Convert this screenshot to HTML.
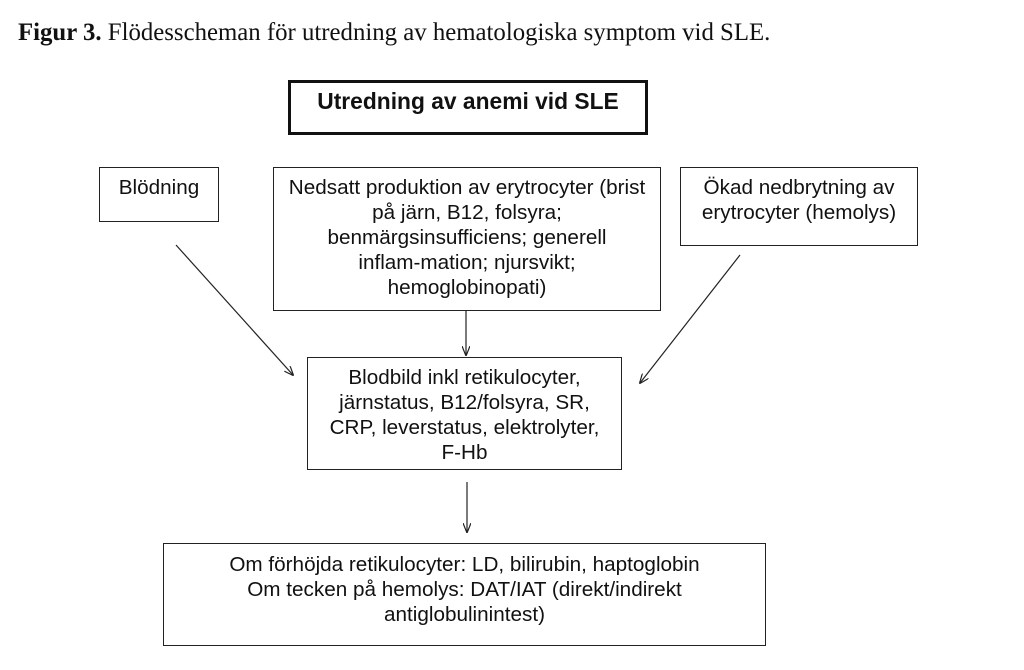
<!DOCTYPE html>
<html><head><meta charset="utf-8"><style>
body{margin:0;width:1024px;height:670px;background:#fff;position:relative;overflow:hidden;font-family:"Liberation Sans",Arial,sans-serif;color:#111}
.t{position:absolute;left:18px;top:19px;font-family:"Liberation Serif",serif;font-size:24.8px;white-space:nowrap}
.b{position:absolute;border:1.5px solid #222;box-sizing:border-box;text-align:center;font-size:20.7px;line-height:25px;padding-top:7px;white-space:nowrap}
</style></head><body>
<div class="t"><b>Figur 3.</b> Flödesscheman för utredning av hematologiska symptom vid SLE.</div>
<div class="b" style="left:288px;top:80px;width:360px;height:55px;border:3px solid #111;font-weight:bold;font-size:22.8px;padding-top:6px">Utredning av anemi vid SLE</div>
<div class="b" style="left:99px;top:167px;width:120px;height:55px">Blödning</div>
<div class="b" style="left:273px;top:167px;width:388px;height:144px">Nedsatt produktion av erytrocyter (brist<br>på järn, B12, folsyra;<br>benmärgsinsufficiens; generell<br>inflam-mation; njursvikt;<br>hemoglobinopati)</div>
<div class="b" style="left:680px;top:167px;width:238px;height:79px">Ökad nedbrytning av<br>erytrocyter (hemolys)</div>
<div class="b" style="left:307px;top:357px;width:315px;height:113px">Blodbild inkl retikulocyter,<br>järnstatus, B12/folsyra, SR,<br>CRP, leverstatus, elektrolyter,<br>F-Hb</div>
<div class="b" style="left:163px;top:543px;width:603px;height:103px;padding-top:8px">Om förhöjda retikulocyter: LD, bilirubin, haptoglobin<br>Om tecken på hemolys: DAT/IAT (direkt/indirekt<br>antiglobulinintest)</div>
<svg width="1024" height="670" style="position:absolute;left:0;top:0">
<defs><marker id="a" markerWidth="10" markerHeight="8" refX="9" refY="4" orient="auto" markerUnits="userSpaceOnUse"><path d="M0,0 L10,4 L0,8" fill="none" stroke="#222" stroke-width="1.2"/></marker></defs>
<g stroke="#222" stroke-width="1.2" fill="none" marker-end="url(#a)">
<line x1="176" y1="245" x2="293" y2="375"/>
<line x1="466" y1="311" x2="466" y2="355"/>
<line x1="740" y1="255" x2="640" y2="383"/>
<line x1="467" y1="482" x2="467" y2="532"/>
</g></svg>
</body></html>
